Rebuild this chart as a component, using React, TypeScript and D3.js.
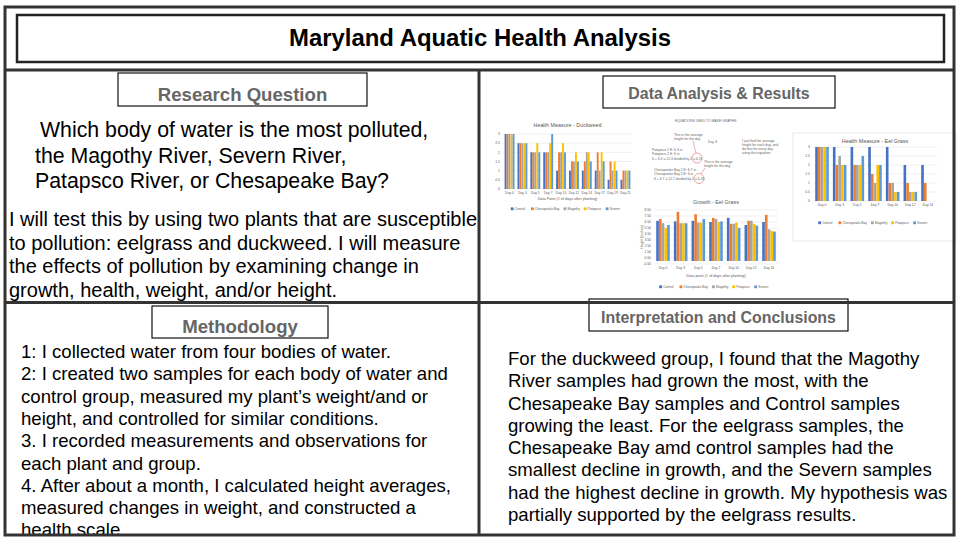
import React from 'react';
import * as d3 from 'd3';

const FONT = '"Liberation Sans", Arial, Helvetica, sans-serif';

// series shared by the three little charts
const seriesNames = ['Control', 'Chesapeake Bay', 'Magothy', 'Patapsco', 'Severn'];
const seriesColors = ['#4472C4', '#ED7D31', '#A5A5A5', '#FFC000', '#5B9BD5'];

// Health Measure - Duckweed
const duckDays = ['Day 0', 'Day 3', 'Day 5', 'Day 7', 'Day 10', 'Day 12', 'Day 14', 'Day 17', 'Day 19', 'Day 21'];
const duckControl = [3, 2.5, 2, 2, 1, 1, 1, 1, 0.5, 0.5];
const duckChesapeake = [3, 2.5, 2, 2, 2, 1.5, 1.5, 2, 1.5, 1];
const duckMagothy = [3, 2.5, 2, 2, 2, 1.5, 2, 1, 1, 1];
const duckPatapsco = [3, 2.5, 2.5, 2.5, 2.5, 2, 2, 2, 1.5, 1];
const duckSevern = [3, 2.5, 2, 3, 2, 1.5, 1.5, 1.5, 1, 1];
const healthTicks = [0, 0.5, 1, 1.5, 2, 2.5, 3];

// Health Measure - Eel Grass
const eelDays = ['Day 0', 'Day 3', 'Day 5', 'Day 7', 'Day 10', 'Day 12', 'Day 14'];
const eelControl = [3, 3, 3, 3, 3, 2, 2];
const eelChesapeake = [3, 2, 2, 1.5, 1, 1, 1];
const eelMagothy = [3, 2.5, 2, 1, 1, 0.5, 0];
const eelPatapsco = [3, 2, 2, 2, 0.5, 0.5, 0];
const eelSevern = [3, 2, 2.5, 2, 0.5, 0.5, 0];

// Growth - Eel Grass (inches)
const growControl = [6.7, 6.6, 6.7, 6.5, 7.2, 6.0, 6.5];
const growChesapeake = [7.0, 8.2, 7.8, 7.2, 6.2, 6.7, 7.7];
const growMagothy = [6.3, 6.3, 6.4, 7.0, 6.2, 6.7, 5.3];
const growPatapsco = [5.5, 6.3, 6.4, 6.5, 6.4, 6.2, 5.0];
const growSevern = [6.0, 6.3, 7.0, 6.6, 5.5, 5.9, 4.9];
const growTicks = [-0.5, 0.5, 1.5, 2.5, 3.5, 4.5, 5.5, 6.5, 7.5, 8.5];

const questionLines = [
  'Which body of water is the most polluted,',
  'the Magothy River, Severn River,',
  'Patapsco River, or Chesapeake Bay?',
];
const planLines = [
  'I will test this by using two plants that are susceptible',
  'to pollution: eelgrass and duckweed. I will measure',
  'the effects of pollution by examining change in',
  'growth, health, weight, and/or height.',
];
const methodLines = [
  '1: I collected water from four bodies of water.',
  '2: I created two samples for each body of water and',
  'control group, measured my plant\u2019s weight/and or',
  'height, and controlled for similar conditions.',
  '3. I recorded measurements and observations for',
  'each plant and group.',
  '4. After about a month, I calculated height averages,',
  'measured changes in weight, and constructed a',
  'health scale.',
];
const conclusionLines = [
  'For the duckweed group, I found that the Magothy',
  'River samples had grown the most, with the',
  'Chesapeake Bay samples and Control samples',
  'growing the least. For the eelgrass samples, the',
  'Chesapeake Bay amd control samples had the',
  'smallest decline in growth, and the Severn samples',
  'had the highest decline in growth. My hypothesis was',
  'partially supported by the eelgrass results.',
];

type MiniProps = {
  left: number; right: number; top: number; bottom: number;
  cats: string[]; values: number[][]; domain: [number, number];
  ticks: number[]; fmt: (v: number) => string;
  title: string; titleY: number; xTitle?: string; xTitleY?: number;
  legendY: number; yTitle?: string;
};

function MiniBars(p: MiniProps) {
  const x = d3.scaleBand().domain(p.cats).range([p.left, p.right]).paddingInner(0.22).paddingOuter(0.12);
  const xs = d3.scaleBand().domain(seriesNames).range([0, x.bandwidth()]).padding(0.04);
  const y = d3.scaleLinear().domain(p.domain).range([p.bottom, p.top]);
  const base = y(Math.max(0, p.domain[0]));
  const mid = (p.left + p.right) / 2;

  // legend laid out from label lengths
  let lx = 0;
  const legend = seriesNames.map((n) => {
    const item = { n, x: lx };
    lx += 4 + n.length * 1.75 + 4;
    return item;
  });
  const lStart = mid - lx / 2;

  return (
    <g fontFamily={FONT}>
      <text x={mid} y={p.titleY} textAnchor="middle" fontSize={5.4} fill="#595959">{p.title}</text>
      {p.ticks.map((t) => (
        <g key={t}>
          <line x1={p.left} x2={p.right} y1={y(t)} y2={y(t)} stroke="#D9D9D9" strokeWidth={0.4} />
          <text x={p.left - 3} y={y(t) + 1.2} textAnchor="end" fontSize={3.4} fill="#595959">{p.fmt(t)}</text>
        </g>
      ))}
      {p.values.map((vals, si) =>
        vals.map((v, ci) => {
          const yy = y(v);
          return (
            <rect key={si + '-' + ci}
              x={(x(p.cats[ci]) as number) + (xs(seriesNames[si]) as number)}
              y={Math.min(yy, base)} width={xs.bandwidth()} height={Math.abs(base - yy)}
              fill={seriesColors[si]} />
          );
        })
      )}
      {p.cats.map((c) => (
        <text key={c} x={(x(c) as number) + x.bandwidth() / 2} y={p.bottom + 5} textAnchor="middle" fontSize={3.3} fill="#595959">{c}</text>
      ))}
      {p.xTitle && (
        <text x={mid} y={p.xTitleY} textAnchor="middle" fontSize={3.8} fill="#595959">{p.xTitle}</text>
      )}
      {p.yTitle && (
        <text transform={`translate(${p.left - 11},${(p.top + p.bottom) / 2}) rotate(-90)`} textAnchor="middle" fontSize={3.6} fill="#595959">{p.yTitle}</text>
      )}
      {legend.map((l, i) => (
        <g key={l.n} transform={`translate(${lStart + l.x},${p.legendY})`}>
          <rect x={0} y={-2.6} width={2.8} height={2.8} fill={seriesColors[i]} />
          <text x={4} y={0} fontSize={3.2} fill="#595959">{l.n}</text>
        </g>
      ))}
    </g>
  );
}

const noteStyle = { fontFamily: FONT, fontSize: 3.4, fill: '#666' };

function Lines({ lines, x, y, step, size }: { lines: string[]; x: number; y: number; step: number; size: number }) {
  return (
    <g fontFamily={FONT} fontSize={size} fill="#000">
      {lines.map((l, i) => (
        <text key={i} x={x} y={y + i * step}>{l}</text>
      ))}
    </g>
  );
}

function Header({ x, y, w, h, label, size, ty }: { x: number; y: number; w: number; h: number; label: string; size: number; ty: number }) {
  return (
    <g>
      <rect x={x} y={y} width={w} height={h} fill="#fff" stroke="#111" strokeWidth={1.2} />
      <text x={x + w / 2} y={ty} textAnchor="middle" fontFamily={FONT} fontWeight="bold" fontSize={size} fill="#666">{label}</text>
    </g>
  );
}

export default function App() {
  const frame = '#333';
  return (
    <div style={{ position: 'fixed', left: 0, top: 0 }}>
      <svg width={960} height={540} style={{ display: 'block', background: '#fff' }}>
        <rect x={0} y={0} width={960} height={540} fill="#fff" />

        {/* title */}
        <rect x={17} y={15} width={927} height={47} fill="none" stroke="#222" strokeWidth={2.5} />
        <text x={480} y={46} textAnchor="middle" fontFamily={FONT} fontWeight="bold" fontSize={23}
          textLength={382} lengthAdjust="spacingAndGlyphs">Maryland Aquatic Health Analysis</text>

        {/* research question */}
        <Header x={118} y={73} w={249} h={33} label="Research Question" size={18.6} ty={100.5} />
        <Lines lines={questionLines.slice(0, 1)} x={40} y={137} step={25} size={21.3} />
        <Lines lines={questionLines.slice(1)} x={35} y={162.5} step={25.2} size={21.3} />
        <Lines lines={planLines} x={9} y={226} step={23.7} size={20} />

        {/* data analysis */}
        <Header x={603} y={76} w={232} h={32} label="Data Analysis & Results" size={15.9} ty={99} />
        <MiniBars left={503} right={632} top={134} bottom={189}
          cats={duckDays} values={[duckControl, duckChesapeake, duckMagothy, duckPatapsco, duckSevern]}
          domain={[0, 3]} ticks={healthTicks} fmt={(v) => String(v)}
          title="Health Measure - Duckweed" titleY={127}
          xTitle="Data Point (# of days after planting)" xTitleY={200} legendY={210} />

        <rect x={793} y={133} width={163} height={108} fill="none" stroke="#E3E3E3" strokeWidth={0.8} />
        <MiniBars left={813} right={937} top={147} bottom={201}
          cats={eelDays} values={[eelControl, eelChesapeake, eelMagothy, eelPatapsco, eelSevern]}
          domain={[0, 3]} ticks={healthTicks} fmt={(v) => String(v)}
          title="Health Measure - Eel Grass" titleY={143} legendY={224} />

        <MiniBars left={654} right={778} top={210} bottom={264}
          cats={eelDays} values={[growControl, growChesapeake, growMagothy, growPatapsco, growSevern]}
          domain={[-0.5, 8.5]} ticks={growTicks} fmt={(v) => v.toFixed(2)}
          title="Growth - Eel Grass" titleY={204}
          xTitle="Data point (# of days after planting)" xTitleY={277} legendY={288} yTitle="Height (inches)" />

        {/* equations notes */}
        <g style={noteStyle as any}>
          <text x={675} y={122}>EQUATIONS USED TO MAKE GRAPHS</text>
          <text x={674} y={136}>This is the average</text>
          <text x={674} y={140}>height for the day</text>
          <text x={708} y={143}>Day 3:</text>
          <text x={652} y={151}>Patapsco 1 E: 6.3 in</text>
          <text x={652} y={155}>Patapsco 2 E: 6 in</text>
          <text x={652} y={159.5}>6 + 6.3 = 12.3 divided by 2 = 6.15</text>
          <text x={704} y={163}>This is the average</text>
          <text x={704} y={167}>height for the day</text>
          <text x={654} y={171}>Chesapeake Bay 1 E: 6.7 in</text>
          <text x={654} y={175}>Chesapeake Bay 2 E: 6 in</text>
          <text x={654} y={179.5}>6 + 6.7 = 12.7 divided by 2 = 6.35</text>
          <text x={742} y={142}>I just find the average</text>
          <text x={742} y={146}>height for each day, and</text>
          <text x={742} y={150}>do that for every day</text>
          <text x={742} y={154}>using this equation</text>
        </g>
        <circle cx={697} cy={158} r={5} fill="none" stroke="#E06666" strokeWidth={0.6} />
        <line x1={693} y1={141} x2={696} y2={153} stroke="#E06666" strokeWidth={0.5} />
        <circle cx={699} cy={178.5} r={5} fill="none" stroke="#E06666" strokeWidth={0.6} />
        <line x1={705} y1={168} x2={701} y2={174} stroke="#E06666" strokeWidth={0.5} />

        {/* methodology */}
        <Header x={152} y={306} w={176} h={32} label="Methodology" size={18.6} ty={333} />
        <Lines lines={methodLines} x={21} y={358} step={22.3} size={18.6} />

        {/* interpretation */}
        <Header x={589} y={299} w={259} h={32} label="Interpretation and Conclusions" size={15.9} ty={322.5} />
        <Lines lines={conclusionLines} x={508} y={365} step={22.25} size={18.6} />

        {/* frame */}
        <g stroke={frame} strokeWidth={3} fill="none">
          <rect x={5} y={7} width={949} height={528} />
          <line x1={5} x2={954} y1={70} y2={70} />
          <line x1={479} x2={479} y1={70} y2={535} />
          <line x1={5} x2={954} y1={302.5} y2={302.5} />
        </g>
      </svg>
    </div>
  );
}
